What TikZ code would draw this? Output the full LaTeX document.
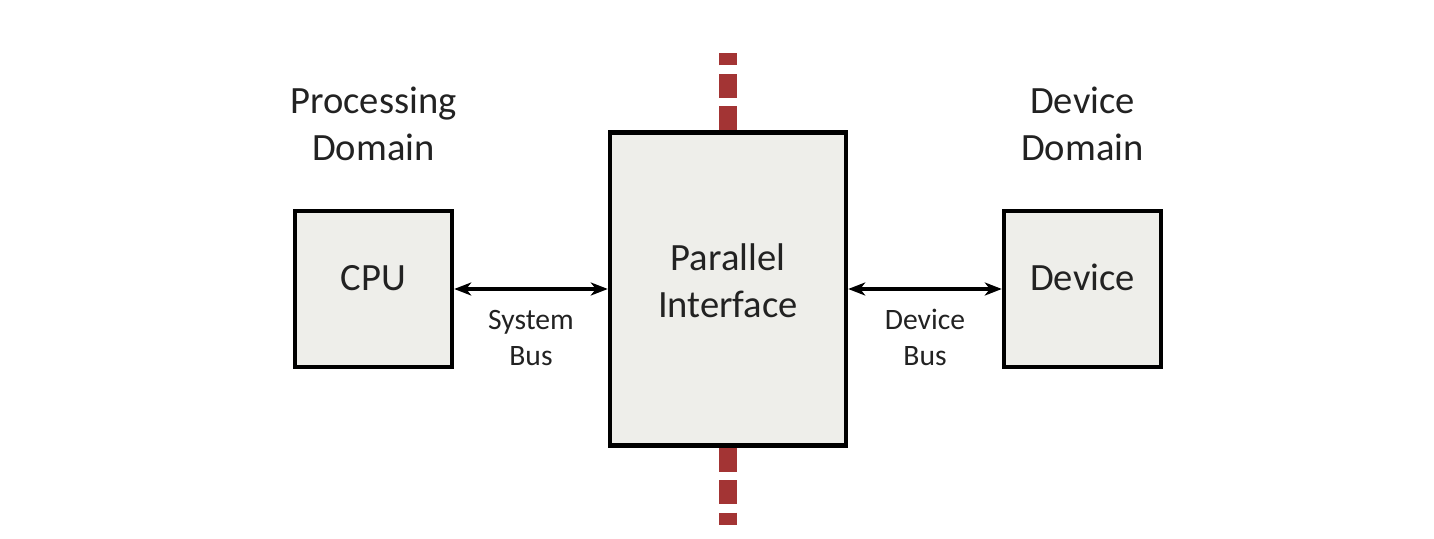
\documentclass[tikz,border=0pt]{standalone}
\usepackage{fontspec}
\setmainfont{Carlito}
\usetikzlibrary{arrows.meta}
\definecolor{boxfill}{HTML}{EEEEEA}
\definecolor{divred}{HTML}{A33434}
\definecolor{txt}{HTML}{222222}
\begin{document}
\begin{tikzpicture}[x=0.5pt,y=-0.5pt,
  blk/.style={draw=black, line width=2.2pt, fill=boxfill, inner sep=0pt},
  big/.style={font=\fontsize{19.3}{23.5}\selectfont, text=txt, anchor=base, inner sep=0pt},
  small/.style={font=\fontsize{14.8}{17.5}\selectfont, text=txt, anchor=base, inner sep=0pt},
  bus/.style={line width=1.6pt, {Stealth[length=8.5pt,width=6.5pt,inset=2.5pt]}-{Stealth[length=8.5pt,width=6.5pt,inset=2.5pt]}},
  divider/.style={divred, line width=9pt, dash pattern=on 12pt off 4.25pt}]
\useasboundingbox (0,0) rectangle (1434,539);
% boxes
\node[blk, minimum width=78.5pt, minimum height=78pt] (cpu) at (373.5,289) {};
\node[blk, minimum width=118pt, minimum height=156.5pt] (pi) at (728,289) {};
\node[blk, minimum width=78.5pt, minimum height=78pt] (dev) at (1082.5,289) {};
% divider
\coordinate (tdiv) at (728,53);
\coordinate (bdiv) at (728,525);
\draw[divider] (pi.north) -- (tdiv);
\draw[divider] (pi.south) -- (bdiv);
% buses
\draw[bus] (cpu.east) -- (pi.west);
\draw[bus] (pi.east) -- (dev.west);
% texts
\node[big] (cputxt) at (373.5,291) {CPU};
\node[big] (devtxt) at (1082.5,291) {Device};
\node[big] (pitxt1) at (728,271) {Parallel};
\node[big] (pitxt2) at (728,318) {Interface};
\node[big] (pd1) at (373.5,113.5) {Processing};
\node[big] (pd2) at (373.5,160.5) {Domain};
\node[big] (dd1) at (1082.5,113.5) {Device};
\node[big] (dd2) at (1082.5,160.5) {Domain};
\node[small] (sb1) at (531,330) {System};
\node[small] (sb2) at (531,365) {Bus};
\node[small] (db1) at (925,330) {Device};
\node[small] (db2) at (925,365) {Bus};
\end{tikzpicture}
\end{document}
